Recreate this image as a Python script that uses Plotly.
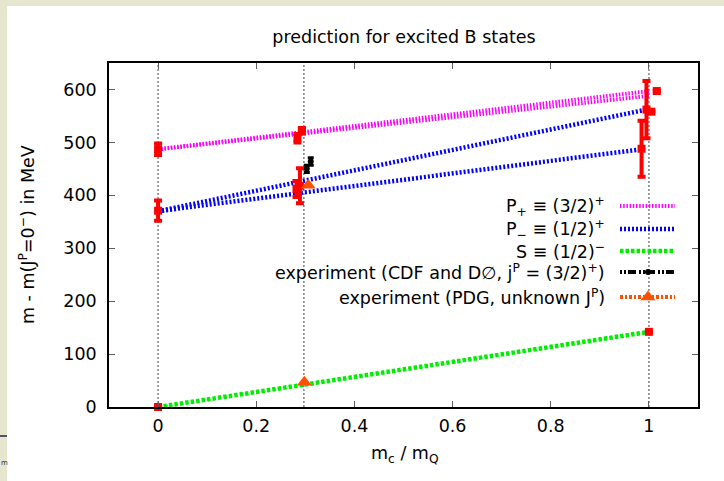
import plotly.graph_objects as go

# ---------------- data ----------------
x_ticks = [0, 0.2, 0.4, 0.6, 0.8, 1]
x_tick_labels = ["0", "0.2", "0.4", "0.6", "0.8", "1"]
y_ticks = [0, 100, 200, 300, 400, 500, 600]

ref_lines_x = [0, 0.297, 1]

# linear interpolations (m_c/m_Q)
pplus_x = [0, 1.0]
pplus_y = [487, 597]
pplus2_x = [0, 1.0]
pplus2_y = [487, 588]
pminus_a_x = [0, 0.99]
pminus_a_y = [370, 561]
pminus_b_x = [0, 0.985]
pminus_b_y = [370, 487]
s_x = [0, 1.0]
s_y = [0, 142]

# lattice results
lat_x = [0, 0, 0, 0.293, 0.284, 0.289, 0.282, 0.995, 0.985, 1.016, 1.005, 1.0]
lat_y = [487, 371, 0, 522, 508, 418, 412, 562, 488, 597, 558, 142]
lat_err = [11, 19, 0, 5, 8, 33, 15, 54, 53, 0, 0, 0]

# experiment CDF and D0
exp_x = [0.303, 0.311]
exp_y = [450, 464]
exp_err = [7, 7]

# experiment PDG
pdg_x = [0.298, 0.306]
pdg_y = [47, 419]

legend_labels = [
    "P<sub>+</sub> \u2261 (3/2)<sup>+</sup>",
    "P<sub>\u2212</sub> \u2261 (1/2)<sup>+</sup>",
    "S \u2261 (1/2)<sup>\u2212</sup>",
    "experiment (CDF and D\u2205, j<sup>P</sup> = (3/2)<sup>+</sup>)",
    "experiment (PDG, unknown J<sup>P</sup>)",
]

# ---------------- styles ----------------
FONT = "DejaVu Sans"
FS = 17.5
MAG = "#ff00ff"
BLUE = "#0000ff"
GREEN = "#00ee00"
RED = "#ff0000"
ORANGE = "#ff5000"

W, H = 724, 481
L, R, T, B = 109, 26, 63, 74
PW, PH = W - L - R, H - T - B

def px_x(p):
    return (p - L) / PW

def px_y(p):
    return (H - B - p) / PH

fig = go.Figure()

line_specs = [
    (pplus_x, pplus_y, MAG, "1.5px,1.7px", 4),
    (pplus2_x, pplus2_y, MAG, "1.5px,1.7px", 4),
    (pminus_a_x, pminus_a_y, BLUE, "2px,2px", 4.5),
    (pminus_b_x, pminus_b_y, BLUE, "2px,2px", 4.5),
    (s_x, s_y, GREEN, "3.5px,2px", 4.5),
]
for xs, ys, c, d, w in line_specs:
    fig.add_trace(go.Scatter(x=xs, y=ys, mode="lines",
                             line=dict(color=c, dash=d, width=w),
                             showlegend=False, hoverinfo="skip"))

fig.add_trace(go.Scatter(
    x=lat_x, y=lat_y, mode="markers",
    marker=dict(symbol="square", size=8, color=RED),
    error_y=dict(type="data", array=lat_err, color=RED, thickness=4, width=4),
    showlegend=False, cliponaxis=False))

fig.add_trace(go.Scatter(
    x=exp_x, y=exp_y, mode="markers",
    marker=dict(symbol="circle", size=6, color="black"),
    error_y=dict(type="data", array=exp_err, color="black", thickness=3, width=3),
    showlegend=False))

fig.add_trace(go.Scatter(
    x=pdg_x, y=pdg_y, mode="markers",
    marker=dict(symbol="triangle-up", size=13, color=ORANGE),
    showlegend=False, cliponaxis=False))

# ---- custom legend (samples on the right of right-aligned text) ----
row_px = [206, 229, 251, 272, 297]
sx0, sx1, smid = px_x(620), px_x(675), px_x(648)
leg_styles = [
    (MAG, "1.5px,1.7px", 4),
    (BLUE, "2px,2px", 4.5),
    (GREEN, "3.5px,2px", 4.5),
    ("black", "2px,2px,2px,2px,8px,3px", 4),
    (ORANGE, "3px,2px,2px,2px", 4),
]
for i, (lab, (c, d, w)) in enumerate(zip(legend_labels, leg_styles)):
    yy = px_y(row_px[i])
    fig.add_trace(go.Scatter(x=[sx0, sx1], y=[yy, yy], mode="lines",
                             line=dict(color=c, dash=d, width=w),
                             xaxis="x2", yaxis="y2", showlegend=False,
                             hoverinfo="skip"))
    fig.add_annotation(x=px_x(607), y=yy, xref="paper", yref="paper",
                       text=lab, showarrow=False, xanchor="right",
                       yanchor="middle", font=dict(family=FONT, size=FS, color="black"))
fig.add_trace(go.Scatter(x=[smid], y=[px_y(row_px[3])], mode="markers",
                         marker=dict(color="black", size=6),
                         xaxis="x2", yaxis="y2", showlegend=False))
fig.add_trace(go.Scatter(x=[smid], y=[px_y(row_px[4])], mode="markers",
                         marker=dict(color=ORANGE, size=13, symbol="triangle-up"),
                         xaxis="x2", yaxis="y2", showlegend=False))

# vertical reference lines
for xv in ref_lines_x:
    fig.add_shape(type="line", x0=xv, x1=xv, y0=0, y1=1, xref="x", yref="paper",
                  line=dict(color="#808080", width=1.5, dash="2px,2px"), layer="below")

# page-edge decorations
BEIGE = "#e6e5cd"
fig.add_shape(type="rect", xref="paper", yref="paper", x0=px_x(0), x1=px_x(7),
              y0=px_y(H), y1=px_y(0), fillcolor=BEIGE, line=dict(width=0))
fig.add_shape(type="rect", xref="paper", yref="paper", x0=px_x(0), x1=px_x(W),
              y0=px_y(6), y1=px_y(0), fillcolor=BEIGE, line=dict(width=0))
fig.add_shape(type="line", xref="paper", yref="paper", x0=px_x(0), x1=px_x(7),
              y0=px_y(436), y1=px_y(436), line=dict(color="#1a2340", width=1.5))
fig.add_annotation(x=px_x(0), y=px_y(463), xref="paper", yref="paper", text="m",
                   showarrow=False, xanchor="left", yanchor="middle", borderpad=0,
                   font=dict(family=FONT, size=7, color="#333333"))

# axis titles
fig.add_annotation(x=px_x(405), y=px_y(468), xref="paper", yref="paper",
                   text="m<sub>c</sub> / m<sub>Q</sub>", showarrow=False,
                   font=dict(family=FONT, size=FS, color="black"))
fig.add_annotation(x=px_x(14), y=px_y(235), xref="paper", yref="paper",
                   text="m - m(J<sup>P</sup>=0<sup>\u2212</sup>) in MeV", showarrow=False,
                   textangle=-90, font=dict(family=FONT, size=FS, color="black"))

axis_common = dict(showline=True, linecolor="black", linewidth=1.5, mirror="ticks",
                   ticks="inside", ticklen=6, tickcolor="#606060", tickwidth=1.2,
                   showgrid=False, zeroline=False,
                   tickfont=dict(family=FONT, size=FS, color="black"))

fig.update_layout(
    width=W, height=H,
    margin=dict(l=L, r=R, t=T, b=B),
    paper_bgcolor="white", plot_bgcolor="white",
    title=dict(text="prediction for excited B states", x=px_x(404), xref="paper",
               xanchor="center", y=1 - 37 / H, yref="container", yanchor="middle",
               font=dict(family=FONT, size=FS, color="black")),
    xaxis=dict(range=[-0.1, 1.1], tickvals=x_ticks, ticktext=x_tick_labels,
               ticklabelstandoff=2, **axis_common),
    yaxis=dict(range=[0, 650], tickvals=y_ticks, ticklabelstandoff=7, **axis_common),
    xaxis2=dict(overlaying="x", range=[0, 1], visible=False),
    yaxis2=dict(overlaying="y", range=[0, 1], visible=False),
    showlegend=False,
)

fig.write_html("out.html")
